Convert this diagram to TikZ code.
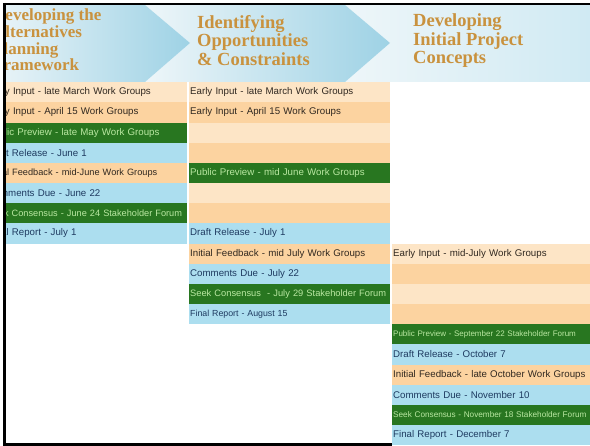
\documentclass[tikz,border=0pt]{standalone}
\usepackage{fontspec}
\newfontfamily\rowfont{Liberation Sans}
\newfontfamily\ttlfont{Liberation Serif}
\definecolor{pkA}{RGB}{253,229,198}
\definecolor{pkB}{RGB}{252,211,160}
\definecolor{grn}{RGB}{40,118,32}
\definecolor{blu}{RGB}{172,222,239}
\definecolor{txtA}{RGB}{48,40,32}
\definecolor{txtB}{RGB}{30,58,96}
\definecolor{txtG}{RGB}{186,232,162}
\definecolor{ttl}{RGB}{201,146,62}
\definecolor{hdrL}{RGB}{238,246,249}
\definecolor{hdrR}{RGB}{158,210,229}
\definecolor{hdrE}{RGB}{208,234,243}
\tikzset{
  rowcell/.style={anchor=north west, rectangle, inner xsep=1.5pt, inner ysep=0pt,
    minimum height=20.17pt, text width=198pt, align=left,
    font=\rowfont\fontsize{9.7}{10}\selectfont},
  sz/.style={font=\rowfont\fontsize{#1}{#1}\selectfont},
  pka/.style={fill=pkA, text=txtA},
  pkb/.style={fill=pkB, text=txtA},
  gr/.style={fill=grn, text=txtG},
  bl/.style={fill=blu, text=txtB},
  ttlA/.style={anchor=base west, inner sep=0pt, text=ttl, font=\ttlfont\bfseries\fontsize{17}{17}\selectfont},
  ttlB/.style={anchor=base west, inner sep=0pt, text=ttl, font=\ttlfont\bfseries\fontsize{18.5}{18.5}\selectfont},
  frame/.style={black, line width=2.6pt}
}
\newcommand\rowbox[5]{\node[rowcell,#4] (#1) at (#2,{82+#3*20.17}) {#5};}
\begin{document}
\begin{tikzpicture}[x=1pt,y=-1pt]
\useasboundingbox (0,0) rectangle (590,446);
\begin{scope}
\clip (5.5,4) rectangle (590,446);
% header band
\shade[left color=hdrL, right color=hdrE] (345,5) -- (590,5) -- (590,82) -- (345,82) -- (390,43) -- cycle;
\shade[left color=hdrL, right color=hdrR] (145,5) -- (345,5) -- (390,43) -- (345,82) -- (145,82) -- (190,43) -- cycle;
\shade[left color=hdrL, right color=hdrR] (-15,5) -- (145,5) -- (190,43) -- (145,82) -- (-15,82) -- cycle;
% titles
\node[ttlA] (t1a) at (-7,21) {Developing the};
\node[ttlA] (t1b) at (-7,37.7) {Alternatives};
\node[ttlA] (t1c) at (-7,54.3) {Planning};
\node[ttlA] (t1d) at (-7,71) {Framework};
\node[ttlB] (t2a) at (197,28.5) {Identifying};
\node[ttlB] (t2b) at (197,47) {Opportunities};
\node[ttlB] (t2c) at (197,65.5) {\& Constraints};
\node[ttlB] (t3a) at (413,26.7) {Developing};
\node[ttlB] (t3b) at (413,45.2) {Initial Project};
\node[ttlB] (t3c) at (413,63.7) {Concepts};
% column 1
\rowbox{a0}{-14}{0}{pka}{Early Input - late March Work Groups}
\rowbox{a1}{-14}{1}{pkb}{Early Input - April 15 Work Groups}
\rowbox{a2}{-14}{2}{gr}{Public Preview - late May Work Groups}
\rowbox{a3}{-14}{3}{bl}{Draft Release - June 1}
\rowbox{a4}{-14}{4}{pkb,sz=9.2}{Initial Feedback - mid-June Work Groups}
\rowbox{a5}{-14}{5}{bl}{Comments Due - June 22}
\rowbox{a6}{-14}{6}{gr,sz=9.2}{Seek Consensus - June 24 Stakeholder Forum}
\rowbox{a7}{-14}{7}{bl}{Final Report - July 1}
% column 2
\rowbox{b0}{188.5}{0}{pka}{Early Input - late March Work Groups}
\rowbox{b1}{188.5}{1}{pkb}{Early Input - April 15 Work Groups}
\rowbox{b2}{188.5}{2}{pka}{}
\rowbox{b3}{188.5}{3}{pkb}{}
\rowbox{b4}{188.5}{4}{gr}{Public Preview - mid June Work Groups}
\rowbox{b5}{188.5}{5}{pka}{}
\rowbox{b6}{188.5}{6}{pkb}{}
\rowbox{b7}{188.5}{7}{bl}{Draft Release - July 1}
\rowbox{b8}{188.5}{8}{pkb}{Initial Feedback - mid July Work Groups}
\rowbox{b9}{188.5}{9}{bl}{Comments Due - July 22}
\rowbox{b10}{188.5}{10}{gr,sz=9.3}{Seek Consensus\ \ - July 29 Stakeholder Forum}
\rowbox{b11}{188.5}{11}{bl,sz=8.8}{Final Report - August 15}
% column 3
\rowbox{c0}{391.5}{8}{pka}{Early Input - mid-July Work Groups}
\rowbox{c1}{391.5}{9}{pkb}{}
\rowbox{c2}{391.5}{10}{pka}{}
\rowbox{c3}{391.5}{11}{pkb}{}
\rowbox{c4}{391.5}{12}{gr,sz=8}{Public Preview - September 22 Stakeholder Forum}
\rowbox{c5}{391.5}{13}{bl}{Draft Release - October 7}
\rowbox{c6}{391.5}{14}{pkb}{Initial Feedback - late October Work Groups}
\rowbox{c7}{391.5}{15}{bl}{Comments Due - November 10}
\rowbox{c8}{391.5}{16}{gr,sz=8.2}{Seek Consensus - November 18 Stakeholder Forum}
\rowbox{c9}{391.5}{17}{bl}{Final Report - December 7}
\end{scope}
% frame
\draw[frame] (3,4) -- (590,4);
\draw[frame] (4.5,3) -- (4.5,446);
\draw[frame] (3,444.7) -- (391.5,444.7);
\end{tikzpicture}
\end{document}
